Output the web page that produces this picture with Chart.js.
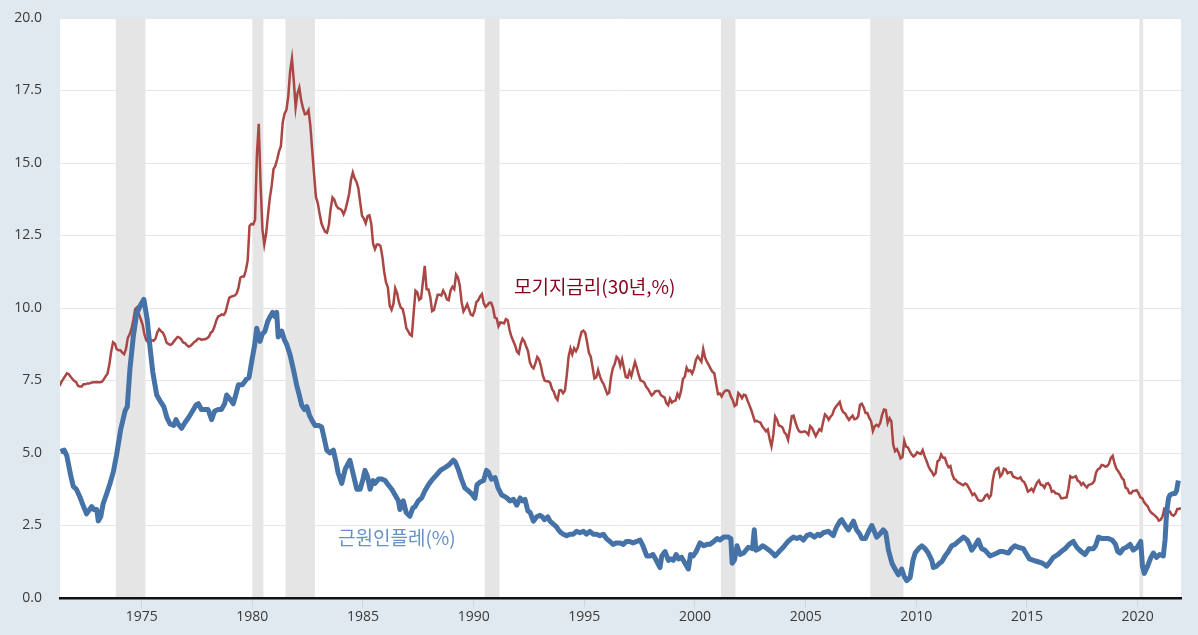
<!DOCTYPE html>
<html><head><meta charset="utf-8">
<script src="https://cdn.jsdelivr.net/npm/chart.js@4.4.1/dist/chart.umd.min.js"></script>
<style>html,body{margin:0;padding:0;background:#e1e9f0;}#wrap{width:1198px;height:635px;}</style>
</head><body><div id="wrap"><canvas id="c" width="1198" height="635"></canvas></div>
<script>
// 30-year mortgage rate, monthly, starting April 1971
const mortgageStartYear = 1971, mortgageStartMonth = 4;
const mortgageRates = [
 7.31,7.45,7.55,7.65,7.75,7.72,7.63,7.55,7.48,
 7.44,7.32,7.29,7.29,7.37,7.37,7.40,7.40,7.42,7.44,7.44,7.45,
 7.44,7.44,7.46,7.54,7.65,7.73,8.05,8.50,8.82,8.77,8.58,8.54,
 8.54,8.46,8.41,8.58,8.97,9.09,9.28,9.59,9.96,10.02,9.79,9.62,
 9.43,9.10,8.89,8.82,8.91,8.89,8.87,8.94,9.16,9.27,9.20,9.15,
 9.02,8.81,8.76,8.73,8.76,8.85,8.93,9.00,8.98,8.92,8.81,8.79,
 8.72,8.67,8.69,8.75,8.83,8.86,8.94,8.94,8.90,8.92,8.92,8.96,
 9.01,9.15,9.20,9.36,9.57,9.71,9.74,9.78,9.76,9.86,10.11,10.35,
 10.39,10.41,10.43,10.50,10.69,11.04,11.09,11.09,11.30,11.64,12.83,12.90,
 12.88,13.04,15.28,16.35,14.26,12.71,12.19,12.56,13.20,13.79,14.21,14.79,
 14.90,15.13,15.40,15.58,16.40,16.70,16.83,17.29,18.16,18.60,17.83,16.92,
 17.40,17.60,17.16,16.89,16.68,16.70,16.82,16.27,15.43,14.61,13.83,13.62,
 13.25,12.92,12.76,12.63,12.60,12.85,13.43,13.81,13.73,13.54,13.44,13.42,
 13.37,13.23,13.39,13.65,13.94,14.42,14.67,14.47,14.35,14.13,13.64,13.18,
 13.08,12.92,13.17,13.20,12.91,12.22,12.03,12.19,12.19,12.14,11.78,11.26,
 10.88,10.71,10.08,9.94,10.14,10.68,10.51,10.20,10.01,9.97,9.70,9.31,
 9.20,9.08,9.04,9.83,10.60,10.54,10.28,10.33,10.89,11.45,10.65,10.64,
 10.38,9.89,9.93,10.20,10.46,10.46,10.43,10.60,10.48,10.30,10.27,10.61,
 10.73,10.65,11.15,11.05,10.77,10.20,9.88,9.99,10.13,9.95,9.77,9.74,
 9.90,10.20,10.27,10.40,10.48,10.16,10.04,10.10,10.18,10.18,10.01,9.67,
 9.64,9.37,9.50,9.49,9.47,9.62,9.58,9.24,9.01,8.86,8.71,8.50,
 8.43,8.76,8.94,8.85,8.67,8.51,8.13,7.98,7.92,8.09,8.31,8.22,
 7.99,7.68,7.50,7.47,7.47,7.42,7.21,7.11,6.92,6.83,7.16,7.17,
 7.06,7.15,7.68,8.32,8.60,8.40,8.61,8.51,8.64,8.93,9.17,9.22,
 9.15,8.83,8.46,8.32,7.96,7.57,7.61,7.86,7.64,7.48,7.38,7.20,
 7.03,7.08,7.62,7.93,8.07,8.32,8.25,8.00,8.23,7.92,7.62,7.60,
 7.82,7.65,7.90,8.14,7.94,7.69,7.50,7.48,7.43,7.29,7.21,7.10,
 6.99,7.04,7.13,7.14,7.14,7.00,6.95,6.92,6.72,6.65,6.87,6.74,
 6.79,6.81,7.04,6.92,7.15,7.55,7.63,7.94,7.82,7.85,7.74,7.91,
 8.21,8.33,8.24,8.15,8.58,8.29,8.15,8.03,7.91,7.80,7.75,7.38,
 7.03,7.05,6.95,7.08,7.15,7.16,7.13,6.95,6.82,6.62,6.66,7.07,
 7.00,6.89,7.01,6.99,6.81,6.65,6.49,6.29,6.09,6.11,6.07,6.05,
 5.92,5.84,5.75,5.81,5.48,5.23,5.63,6.26,6.15,5.95,5.93,5.88,
 5.71,5.64,5.45,5.83,6.27,6.29,6.06,5.87,5.75,5.72,5.73,5.75,
 5.71,5.63,5.93,5.86,5.72,5.58,5.70,5.82,5.77,6.07,6.33,6.27,
 6.15,6.25,6.32,6.51,6.60,6.68,6.76,6.52,6.40,6.36,6.24,6.14,
 6.22,6.29,6.16,6.18,6.26,6.66,6.70,6.57,6.38,6.38,6.21,6.10,
 5.76,5.92,5.97,5.92,6.04,6.32,6.50,6.48,6.04,6.20,6.09,5.29,
 5.06,5.13,5.00,4.81,4.86,5.42,5.22,5.19,5.06,4.95,4.88,4.93,
 5.03,4.99,4.97,5.10,4.89,4.74,4.56,4.43,4.35,4.23,4.30,4.71,
 4.76,4.95,4.84,4.84,4.64,4.51,4.55,4.27,4.11,4.07,3.99,3.96,
 3.92,3.89,3.95,3.91,3.80,3.68,3.55,3.60,3.50,3.38,3.35,3.35,
 3.41,3.53,3.57,3.45,3.54,4.07,4.37,4.46,4.49,4.19,4.26,4.46,
 4.43,4.30,4.34,4.34,4.19,4.16,4.13,4.12,4.16,4.04,4.00,3.86,
 3.67,3.71,3.77,3.67,3.84,3.98,4.05,3.91,3.89,3.80,3.94,3.96,
 3.87,3.66,3.69,3.61,3.60,3.57,3.44,3.44,3.46,3.47,3.77,4.20,
 4.15,4.17,4.20,4.05,4.01,3.90,3.97,3.88,3.81,3.90,3.92,3.95,
 4.03,4.33,4.44,4.47,4.59,4.57,4.53,4.55,4.63,4.83,4.90,4.64,
 4.46,4.37,4.27,4.14,4.07,3.80,3.77,3.62,3.61,3.69,3.70,3.72,
 3.62,3.47,3.45,3.31,3.23,3.16,3.02,2.94,2.89,2.83,2.77,2.67,
 2.70,2.81,3.08,3.06,2.96,2.98,2.87,2.84,2.90,3.07,3.07,3.10
];

// Core inflation (%), dates as decimal years
const inflationDates = [
 1971.33,1971.50,1971.62,1971.80,1971.91,1972.05,1972.20,1972.35,1972.51,1972.65,1972.74,1972.85,1972.97,1973.04,1973.15,1973.26,1973.42,1973.57,1973.72,1973.87,
 1974.05,1974.25,1974.35,1974.47,1974.62,1974.77,1974.95,1975.10,1975.25,1975.37,1975.50,1975.68,1975.83,1976.00,1976.15,1976.28,1976.45,1976.55,1976.65,1976.80,
 1976.96,1977.10,1977.30,1977.45,1977.56,1977.70,1977.85,1978.00,1978.16,1978.30,1978.46,1978.60,1978.75,1978.84,1979.00,1979.14,1979.25,1979.37,1979.55,1979.74,
 1979.85,1979.97,1980.10,1980.20,1980.35,1980.45,1980.57,1980.70,1980.80,1980.92,1981.02,1981.10,1981.17,1981.33,1981.45,1981.55,1981.70,1981.85,1982.00,1982.12,
 1982.23,1982.35,1982.46,1982.58,1982.68,1982.83,1983.00,1983.13,1983.25,1983.36,1983.50,1983.66,1983.78,1983.88,1984.04,1984.20,1984.41,1984.55,1984.72,1984.87,
 1985.00,1985.09,1985.20,1985.32,1985.45,1985.54,1985.70,1985.85,1986.00,1986.14,1986.30,1986.45,1986.60,1986.67,1986.82,1986.95,1987.12,1987.25,1987.35,1987.50,
 1987.65,1987.80,1987.95,1988.15,1988.33,1988.50,1988.71,1988.90,1989.08,1989.16,1989.30,1989.45,1989.60,1989.75,1989.90,1990.06,1990.15,1990.29,1990.45,1990.58,
 1990.66,1990.80,1990.97,1991.10,1991.27,1991.40,1991.50,1991.64,1991.80,1991.95,1992.10,1992.20,1992.32,1992.45,1992.55,1992.70,1992.85,1993.00,1993.10,1993.20,
 1993.35,1993.45,1993.60,1993.75,1993.83,1993.95,1994.05,1994.20,1994.35,1994.50,1994.65,1994.80,1994.96,1995.10,1995.25,1995.40,1995.55,1995.70,1995.86,1996.00,
 1996.15,1996.30,1996.45,1996.60,1996.76,1996.90,1997.05,1997.20,1997.37,1997.52,1997.65,1997.82,1997.97,1998.10,1998.25,1998.42,1998.50,1998.65,1998.80,1998.90,
 1999.02,1999.15,1999.25,1999.40,1999.55,1999.70,1999.80,1999.92,2000.05,2000.23,2000.40,2000.55,2000.68,2000.85,2001.00,2001.13,2001.30,2001.51,2001.62,2001.68,
 2001.78,2001.90,2002.04,2002.20,2002.41,2002.60,2002.68,2002.75,2002.90,2003.05,2003.17,2003.35,2003.50,2003.62,2003.80,2003.99,2004.20,2004.44,2004.60,2004.75,
 2004.90,2005.05,2005.20,2005.40,2005.55,2005.65,2005.80,2006.02,2006.10,2006.25,2006.40,2006.55,2006.63,2006.75,2006.93,2007.05,2007.16,2007.30,2007.45,2007.54,
 2007.70,2007.85,2007.99,2008.10,2008.21,2008.35,2008.51,2008.62,2008.74,2008.90,2009.04,2009.19,2009.34,2009.45,2009.57,2009.72,2009.85,2009.95,2010.10,2010.25,
 2010.40,2010.54,2010.70,2010.77,2010.92,2011.05,2011.15,2011.30,2011.45,2011.60,2011.75,2011.90,2012.05,2012.13,2012.30,2012.40,2012.50,2012.65,2012.80,2012.95,
 2013.10,2013.33,2013.50,2013.65,2013.78,2013.93,2014.16,2014.30,2014.46,2014.60,2014.84,2014.95,2015.11,2015.30,2015.50,2015.70,2015.89,2016.00,2016.19,2016.40,
 2016.55,2016.72,2016.90,2017.09,2017.25,2017.45,2017.62,2017.80,2018.00,2018.10,2018.23,2018.40,2018.55,2018.68,2018.85,2019.00,2019.10,2019.21,2019.35,2019.50,
 2019.66,2019.80,2019.98,2020.14,2020.22,2020.30,2020.45,2020.60,2020.71,2020.85,2021.00,2021.16,2021.24,2021.31,2021.40,2021.46,2021.60,2021.69,2021.76,2021.84
];
const inflationValues = [
 5.05,5.10,4.90,4.20,3.85,3.75,3.50,3.20,2.90,3.05,3.15,3.05,3.05,2.66,2.80,3.25,3.60,3.95,4.35,4.95,
 5.80,6.45,6.60,7.90,9.00,9.80,10.10,10.30,9.60,8.70,7.80,7.00,6.80,6.60,6.20,6.00,5.95,6.15,6.00,5.85,
 6.05,6.20,6.45,6.65,6.70,6.50,6.50,6.50,6.15,6.45,6.50,6.50,6.70,7.00,6.85,6.70,7.00,7.35,7.35,7.55,
 7.60,8.15,8.70,9.30,8.85,9.10,9.20,9.55,9.70,9.85,9.70,9.85,9.00,9.20,8.90,8.75,8.40,7.90,7.35,7.00,
 6.65,6.50,6.60,6.30,6.15,5.95,5.95,5.90,5.50,5.10,5.00,5.10,4.70,4.30,3.95,4.45,4.75,4.30,3.75,3.75,
 4.10,4.40,4.20,3.75,4.05,3.95,4.10,4.10,4.05,3.90,3.75,3.55,3.35,3.05,3.35,2.95,2.82,3.10,3.15,3.35,
 3.45,3.70,3.90,4.10,4.25,4.40,4.50,4.60,4.75,4.70,4.45,4.10,3.80,3.70,3.60,3.44,3.90,4.00,4.05,4.40,
 4.35,4.10,4.15,3.80,3.55,3.50,3.45,3.35,3.40,3.20,3.45,3.35,3.40,3.00,2.95,2.65,2.80,2.85,2.80,2.70,
 2.80,2.65,2.55,2.45,2.35,2.25,2.20,2.15,2.20,2.20,2.30,2.25,2.30,2.20,2.30,2.20,2.20,2.15,2.20,2.05,
 1.95,1.85,1.90,1.90,1.85,1.95,1.95,1.90,1.95,2.00,1.80,1.45,1.45,1.50,1.30,1.05,1.45,1.60,1.30,1.35,
 1.30,1.50,1.35,1.40,1.20,1.00,1.50,1.45,1.60,1.90,1.80,1.85,1.85,1.95,2.05,2.00,2.10,2.10,2.05,1.20,
 1.30,1.80,1.50,1.55,1.75,1.70,2.35,1.65,1.70,1.80,1.75,1.65,1.55,1.45,1.60,1.75,1.95,2.10,2.05,2.10,
 2.00,2.15,2.20,2.10,2.20,2.15,2.25,2.30,2.25,2.15,2.45,2.65,2.70,2.55,2.35,2.50,2.65,2.35,2.20,2.05,
 2.05,2.30,2.50,2.30,2.10,2.20,2.35,2.25,1.65,1.20,1.00,0.80,1.00,0.75,0.60,0.70,1.30,1.55,1.70,1.80,
 1.70,1.55,1.30,1.05,1.10,1.20,1.25,1.45,1.60,1.80,1.85,1.95,2.05,2.10,2.00,1.85,1.65,1.80,2.00,1.70,
 1.65,1.45,1.50,1.55,1.60,1.60,1.55,1.70,1.80,1.75,1.70,1.55,1.35,1.30,1.25,1.20,1.10,1.20,1.40,1.50,
 1.60,1.70,1.85,1.95,1.75,1.60,1.50,1.70,1.70,1.80,2.10,2.05,2.05,2.05,2.00,1.85,1.60,1.55,1.70,1.75,
 1.85,1.65,1.75,1.95,1.10,0.85,1.10,1.40,1.55,1.40,1.50,1.45,2.00,2.95,3.45,3.55,3.60,3.60,3.70,4.05
];

// Recession periods (decimal years)
const recessionStarts = [1973.83, 1980.00, 1981.50, 1990.50, 2001.17, 2007.92, 2020.08];
const recessionEnds   = [1975.17, 1980.50, 1982.83, 1991.17, 2001.83, 2009.42, 2020.25];

const xTickYears = [1975, 1980, 1985, 1990, 1995, 2000, 2005, 2010, 2015, 2020];
const yMin = 0, yMax = 20, yStep = 2.5;

const mortgageLabel = '모기지금리(30년,%)';
const inflationLabel = '근원인플레(%)';
const mortgageLabelAnchor = [1991.82, 10.72];
const inflationLabelAnchor = [1983.87, 2.07];

const mortgagePoints = mortgageRates.map((v, i) => {
  const m = mortgageStartMonth - 1 + i;
  return { x: mortgageStartYear + m / 12 + 0.04, y: v };
});
const inflationPoints = inflationDates.map((d, i) => ({ x: d, y: inflationValues[i] }));

const bgPlugin = {
  id: 'bg',
  beforeDraw(chart) {
    const { ctx, chartArea: a, scales } = chart;
    ctx.save();
    ctx.fillStyle = '#ffffff';
    ctx.fillRect(a.left, a.top, a.right - a.left, a.bottom - a.top);
    ctx.fillStyle = '#e5e5e5';
    const xs = scales.x;
    recessionStarts.forEach((s, i) => {
      const x1 = Math.max(a.left, xs.getPixelForValue(s));
      const x2 = Math.min(a.right, xs.getPixelForValue(recessionEnds[i]));
      ctx.fillRect(x1, a.top, x2 - x1, a.bottom - a.top);
    });
    ctx.restore();
  }
};

const labelPlugin = {
  id: 'labels',
  afterDatasetsDraw(chart) {
    const { ctx, scales } = chart;
    ctx.save();
    ctx.font = '19px "Noto Sans CJK KR", "Noto Sans", sans-serif';
    ctx.textAlign = 'left';
    ctx.textBaseline = 'middle';
    ctx.fillStyle = '#85001c';
    ctx.fillText(mortgageLabel, scales.x.getPixelForValue(mortgageLabelAnchor[0]), scales.y.getPixelForValue(mortgageLabelAnchor[1]));
    ctx.fillStyle = '#6690c8';
    ctx.fillText(inflationLabel, scales.x.getPixelForValue(inflationLabelAnchor[0]), scales.y.getPixelForValue(inflationLabelAnchor[1]));
    ctx.restore();
  }
};

new Chart(document.getElementById('c'), {
  type: 'line',
  data: {
    datasets: [
      { label: mortgageLabel, data: mortgagePoints, borderColor: '#aa4643', borderWidth: 2.5, pointRadius: 0, tension: 0, order: 2 },
      { label: inflationLabel, data: inflationPoints, borderColor: '#4572a7', borderWidth: 5, pointRadius: 0, tension: 0, order: 1, borderJoinStyle: 'round' }
    ]
  },
  options: {
    responsive: false,
    animation: false,
    devicePixelRatio: 1,
    layout: { padding: { top: 18, right: 17, left: 0, bottom: 0 } },
    plugins: { legend: { display: false }, tooltip: { enabled: false } },
    scales: {
      x: {
        type: 'linear',
        min: 1971.31,
        max: 2021.96,
        afterBuildTicks(scale) { scale.ticks = xTickYears.map(v => ({ value: v })); },
        afterFit(scale) { scale.height = 37; scale.paddingLeft = 0; scale.paddingRight = 0; },
        ticks: { callback: v => String(v), color: '#3a3a3a', font: { family: '"Open Sans", sans-serif', size: 14 }, padding: 2, maxRotation: 0, autoSkip: false },
        grid: { drawOnChartArea: false, drawTicks: true, tickLength: 9, tickColor: '#c8d6e6', color: '#c8d6e6', lineWidth: 1 },
        border: { display: true, color: '#111111', width: 2.5 }
      },
      y: {
        min: yMin, max: yMax,
        afterFit(scale) { scale.width = 60; scale.paddingTop = 0; scale.paddingBottom = 0; },
        ticks: { stepSize: yStep, callback: v => Number(v).toFixed(1), color: '#3a3a3a', font: { family: '"Open Sans", sans-serif', size: 14 }, padding: 18 },
        grid: { color: '#e6e6e6', lineWidth: 1, drawTicks: false },
        border: { display: false }
      }
    }
  },
  plugins: [bgPlugin, labelPlugin]
});
</script>
</body></html>
